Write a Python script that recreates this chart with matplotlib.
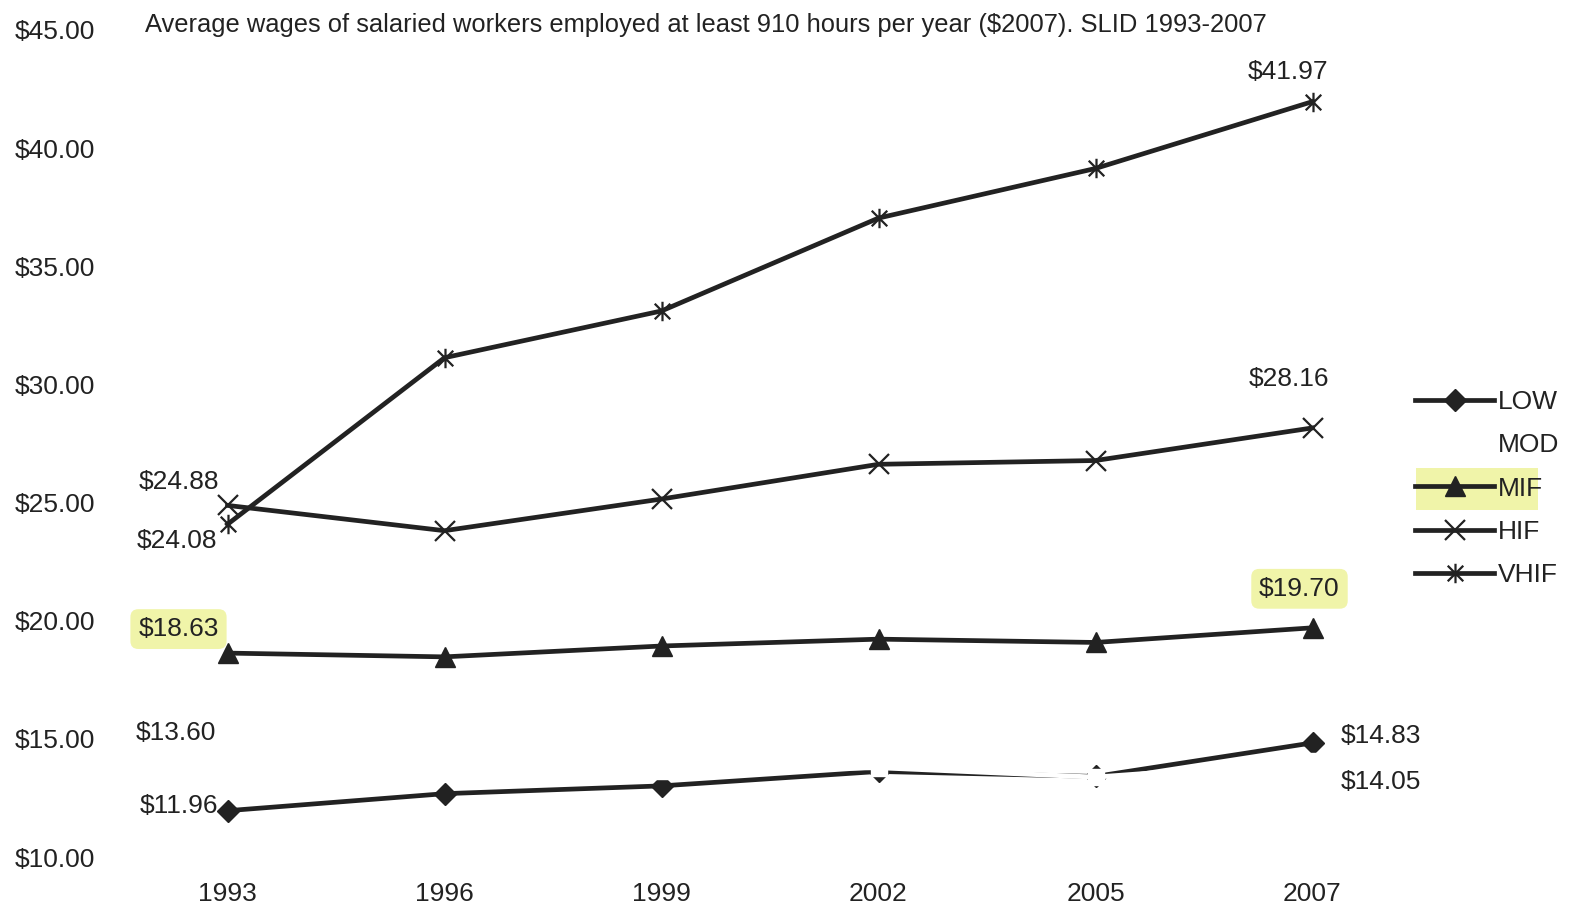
import matplotlib
matplotlib.use("Agg")
import matplotlib.pyplot as plt
from matplotlib.path import Path
from matplotlib.patches import Rectangle

plt.rcParams['font.family'] = ['Liberation Sans', 'DejaVu Sans']

years = ['1993', '1996', '1999', '2002', '2005', '2007']
low = [11.96, 12.68, 13.01, 13.62, 13.41, 14.83]
mod = [13.60, 13.62, 13.66, 13.78, 13.38, 14.05]
mif = [18.63, 18.47, 18.93, 19.22, 19.08, 19.70]
hif = [24.88, 23.81, 25.15, 26.62, 26.78, 28.16]
vhif = [24.08, 31.13, 33.11, 37.04, 39.14, 41.97]

yticks = [10, 15, 20, 25, 30, 35, 40, 45]
title = "Average wages of salaried workers employed at least 910 hours per year ($2007). SLID 1993-2007"

# asterisk marker: an x with a vertical bar through it
star = Path([(-1, -1), (1, 1), (-1, 1), (1, -1), (0, -1.25), (0, 1.25)],
            [Path.MOVETO, Path.LINETO, Path.MOVETO, Path.LINETO, Path.MOVETO, Path.LINETO])

ink = '#222222'
fs = 19
fig = plt.figure(figsize=(15.69, 9.13), dpi=100)
W, H = 1569, 913
ax = fig.add_axes([119 / W, 1 - 857 / H, (1421 - 119) / W, (857 - 30) / H])
ax.patch.set_alpha(0)

x = list(range(len(years)))
ax.plot(x, low, color=ink, lw=3.4, marker='D', ms=11, label='LOW')
ax.plot(x, mod, color='white', lw=3.5, marker='s', ms=11, label='MOD')
ax.plot(x, mif, color=ink, lw=3.4, marker='^', ms=15, label='MIF')
ax.plot(x, hif, color=ink, lw=3.4, marker='x', ms=15, mew=1.6, label='HIF')
ax.plot(x, vhif, color=ink, lw=3.4, marker=star, ms=14, mew=1.6, label='VHIF')

ax.set_xlim(-0.5, 5.5)
ax.set_ylim(10, 45)
ax.set_xticks(x)
ax.set_xticklabels(years)
ax.set_yticks(yticks)
ax.set_yticklabels([f'${v:.2f}' for v in yticks])
ax.tick_params(length=0, labelsize=fs, colors=ink)
ax.tick_params(axis='x', pad=18)
ax.tick_params(axis='y', pad=17)
for s in ax.spines.values():
    s.set_visible(False)

fig.text(145 / W, 1 - 25 / H, title, fontsize=18.4, color=ink, va='center', ha='left')

# value labels at first and last year: (series, index, dx, dy in pixels, highlighted)
hl = '#eef39a'
labels = [
    (hif, 0, -49, 23, False),
    (vhif, 0, -51, -17, False),
    (mif, 0, -49, 24, True),
    (mod, 0, -52, 39, False),
    (low, 0, -49, 5, False),
    (vhif, 5, -24, 30, False),
    (hif, 5, -24, 49, False),
    (mif, 5, -13, 39, True),
    (low, 5, 68, 7, False),
    (mod, 5, 68, -21, False),
]
for series, i, dx, dy, mark in labels:
    t = ax.annotate(f'${series[i]:.2f}', (x[i], series[i]), xytext=(dx, dy),
                    textcoords='offset pixels', ha='center', va='center',
                    fontsize=fs, color=ink, annotation_clip=False)
    if mark:
        t.set_bbox(dict(boxstyle='round,pad=0.3', fc=hl, ec='none', alpha=0.85))

leg = ax.legend(loc='upper left', bbox_to_anchor=(1415 / W, 1 - 390 / H),
                bbox_transform=fig.transFigure, frameon=False, fontsize=fs,
                handlelength=3.0, handletextpad=0.15, labelspacing=0.73,
                borderpad=0, borderaxespad=0)
for t in leg.get_texts():
    t.set_color(ink)

fig.patches.append(Rectangle((1416 / W, 1 - 510 / H), 122 / W, 42 / H,
                             transform=fig.transFigure, fc=hl, ec='none',
                             alpha=0.85, zorder=-1))

fig.savefig('out.png', dpi=100, facecolor='white')
